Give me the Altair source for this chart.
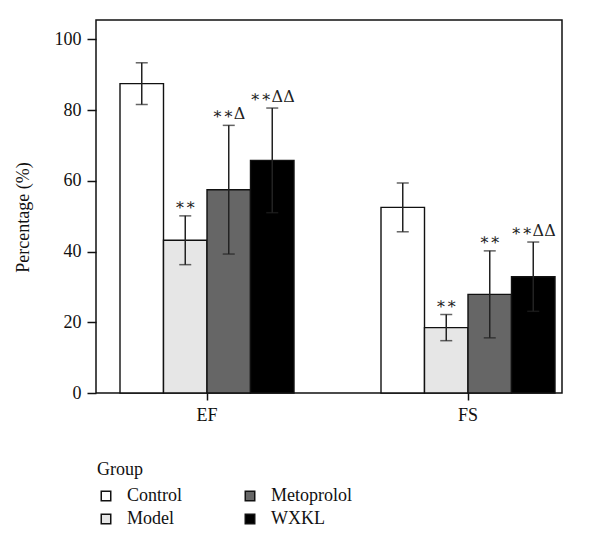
import altair as alt
import pandas as pd

groups = ["EF", "FS"]
treatments = ["Control", "Model", "Metoprolol", "WXKL"]
ef_mean = [87.5, 43.2, 57.5, 65.8]
ef_sd = [5.9, 6.9, 18.2, 14.8]
fs_mean = [52.5, 18.5, 27.9, 32.9]
fs_sd = [6.9, 3.7, 12.3, 9.8]
ef_marks = ["", "∗∗", "∗∗Δ", "∗∗ΔΔ"]
fs_marks = ["", "∗∗", "∗∗", "∗∗ΔΔ"]
bar_colors = ["#ffffff", "#e6e6e6", "#666666", "#000000"]
y_ticks = [0, 20, 40, 60, 80, 100]

rows = []
for g, means, sds, marks in [("EF", ef_mean, ef_sd, ef_marks), ("FS", fs_mean, fs_sd, fs_marks)]:
    for t, m, s, k in zip(treatments, means, sds, marks):
        rows.append({"Index": g, "Group": t, "mean": m, "lo": m - s, "hi": m + s, "mark": k})
df = pd.DataFrame(rows)

FONT = "Liberation Serif"

x = alt.X("Index:N", sort=groups, title=None,
          scale=alt.Scale(range=[24, 459], paddingInner=1 / 3, paddingOuter=0),
          axis=alt.Axis(labelAngle=0, bandPosition=0.5, domain=False, tickSize=7,
                        labelPadding=6, labelFontSize=18))
xo = alt.XOffset("Group:N", sort=treatments,
                 scale=alt.Scale(domain=treatments, paddingInner=0, paddingOuter=0))

base = alt.Chart(df).encode(x=x, xOffset=xo)

bars = base.mark_bar(stroke="#111111", strokeWidth=1.4).encode(
    y=alt.Y("mean:Q", scale=alt.Scale(domain=[0, 105.5], nice=False, zero=True),
            axis=alt.Axis(values=y_ticks, tickSize=9, labelPadding=6, domain=False, grid=False,
                          title="Percentage (%)", titleX=-64, titleY=197,
                          titleFontSize=18, titleFontWeight="normal", labelFontSize=18)),
    color=alt.Color("Group:N",
                    scale=alt.Scale(domain=treatments, range=bar_colors),
                    legend=alt.Legend(title="Group", orient="none", legendX=1, legendY=441,
                                      columns=2, symbolType="square", symbolSize=90,
                                      symbolStrokeColor="#111111", symbolStrokeWidth=1.5,
                                      titleFont=FONT, labelFont=FONT,
                                      titleFontSize=18, titleFontWeight="normal",
                                      labelFontSize=18, titlePadding=8, rowPadding=5,
                                      columnPadding=58, labelOffset=12, padding=0)),
)

rules = base.mark_rule(strokeWidth=1.5, color="#222222").encode(
    y="lo:Q", y2="hi:Q")
caps_hi = base.mark_tick(size=12, thickness=1.5, color="#222222").encode(y="hi:Q")
caps_lo = base.mark_tick(size=12, thickness=1.5, color="#222222").encode(y="lo:Q")
texts = base.mark_text(font="DejaVu Serif", fontSize=16, baseline="middle", align="center",
                       dy=-11, color="#222222").encode(y="hi:Q", text="mark:N")

chart = alt.layer(bars, rules, caps_hi, caps_lo, texts).properties(
    width=466, height=373,
    autosize=alt.AutoSizeParams(type="none"),
    padding={"left": 88, "top": 12, "right": 30, "bottom": 150},
).configure_view(
    stroke="#111111", strokeWidth=1.5
).configure_axis(
    labelFont=FONT, titleFont=FONT, labelColor="#111111", titleColor="#111111",
    tickColor="#111111", tickWidth=1.5
).configure_legend(
    labelFont=FONT, titleFont=FONT, labelColor="#111111", titleColor="#111111"
)

chart.save("out.html", embed_options={"renderer": "svg", "actions": False})
